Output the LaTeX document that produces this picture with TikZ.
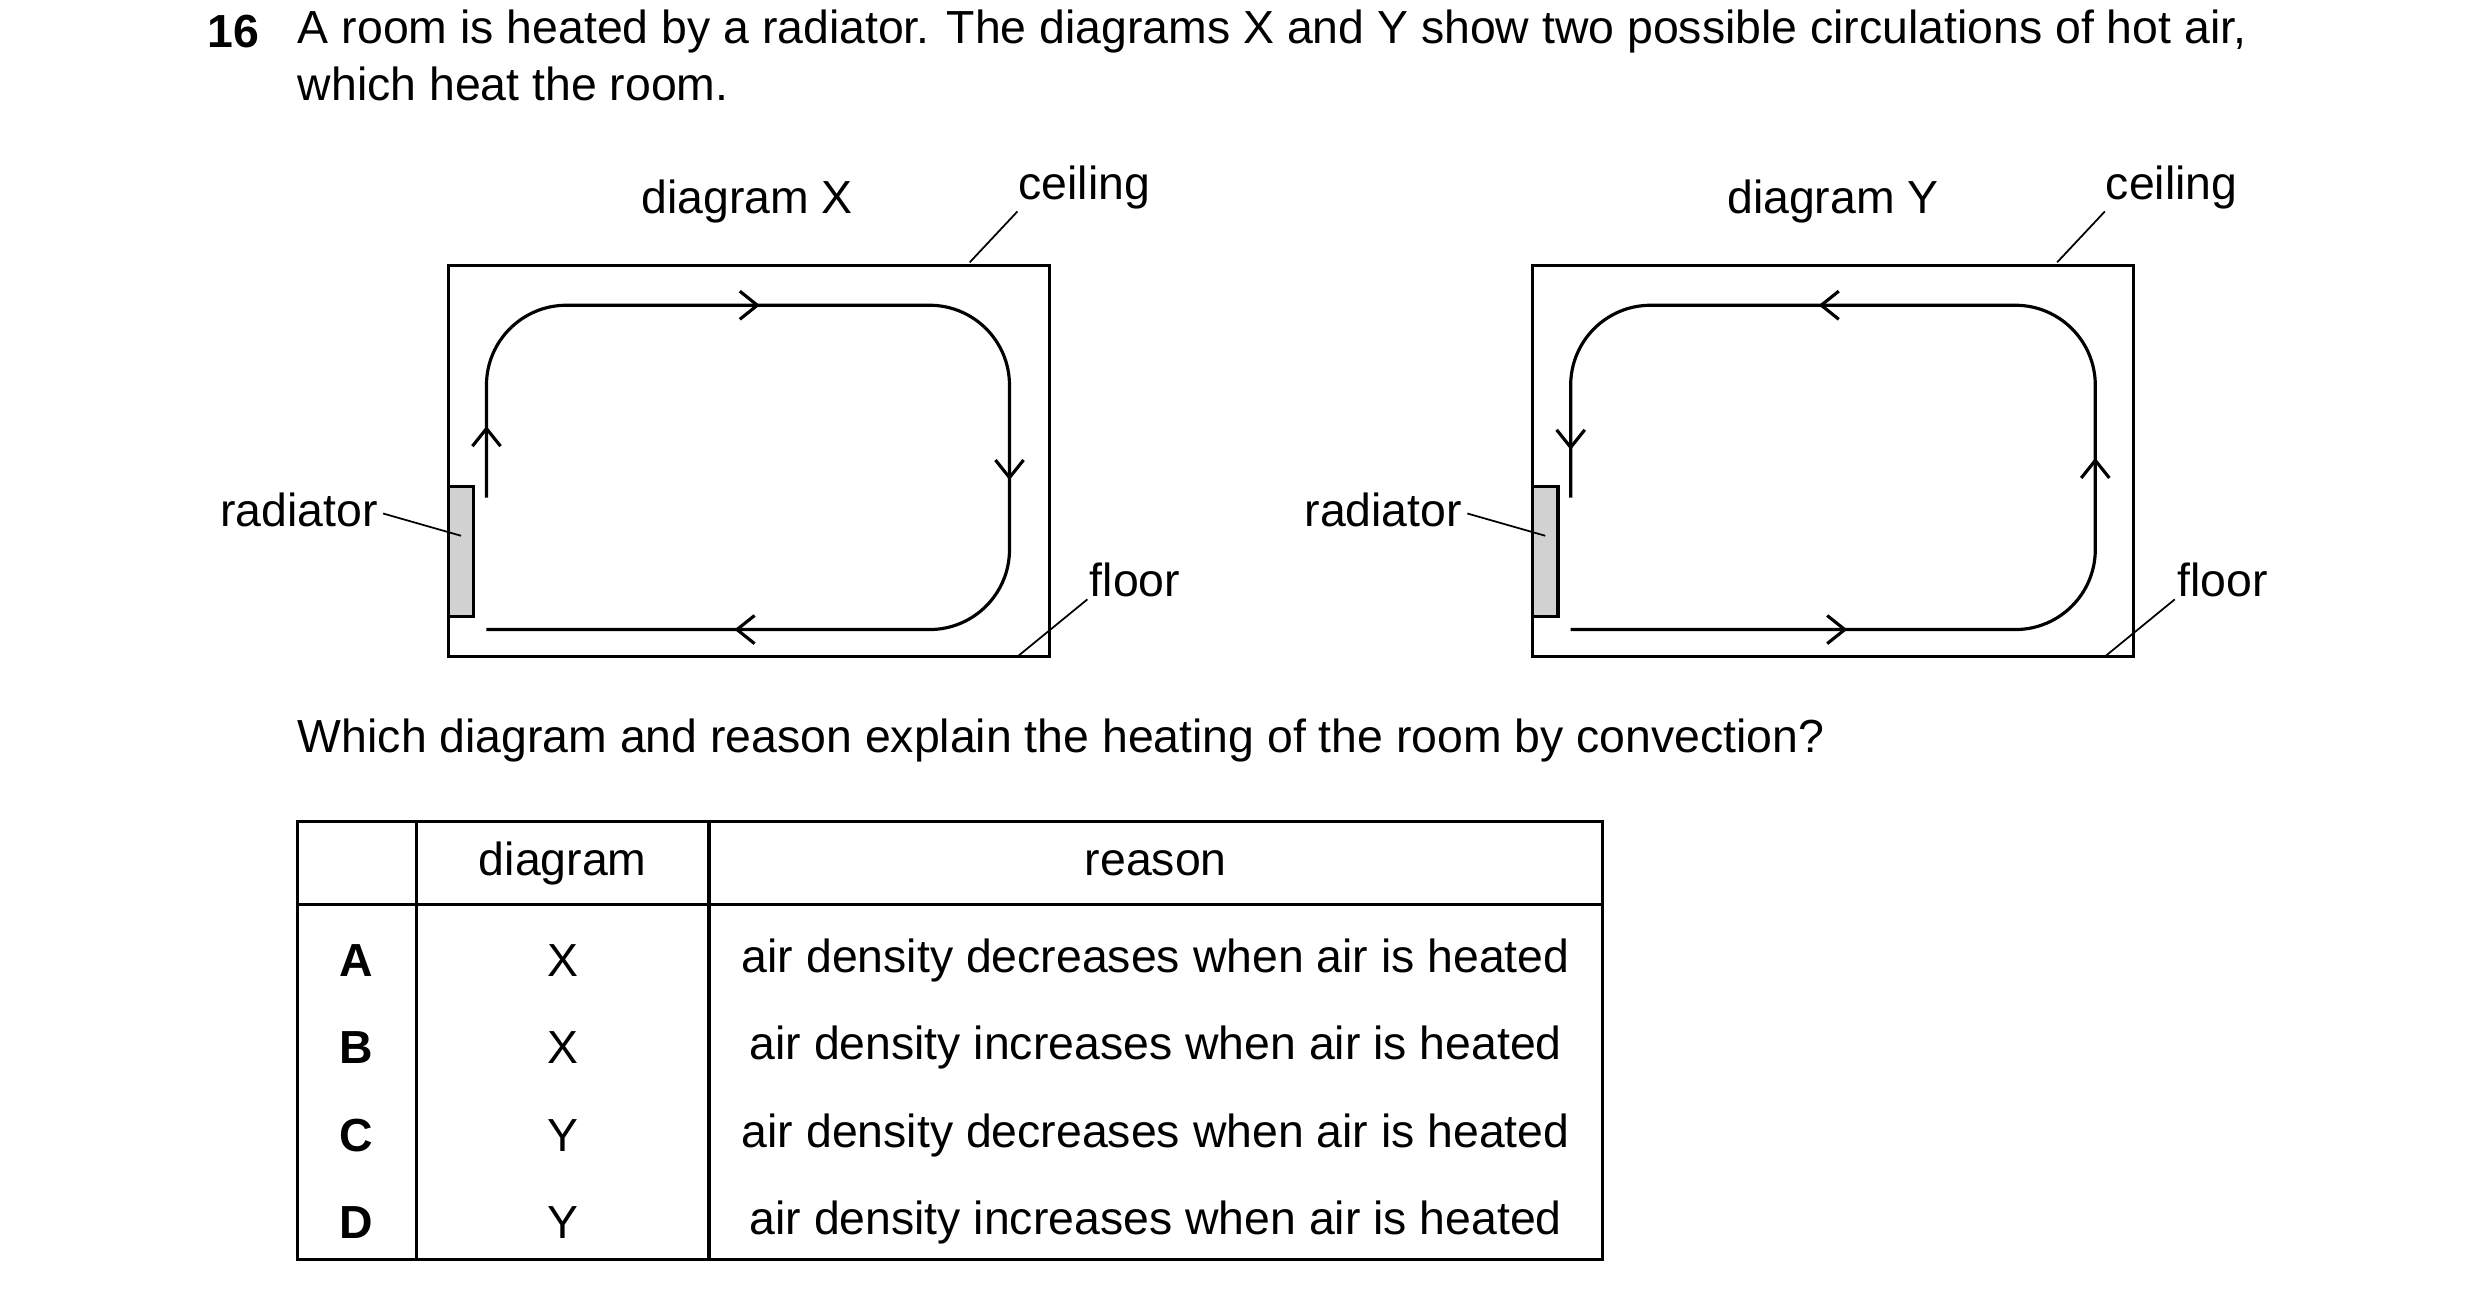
\documentclass[tikz,border=0pt]{standalone}
\usepackage{fontspec}
\setmainfont{Liberation Sans}
\usetikzlibrary{arrows.meta}

\tikzset{
  txt/.style={font=\fontsize{13.2}{16}\selectfont, inner sep=0pt},
  room/.style={line width=0.9pt},
  flow/.style={line width=0.9pt, rounded corners=0.8cm},
  tip/.style={line width=0.9pt, -{Straight Barb[length=5pt,width=8pt]}},
  lead/.style={line width=0.5pt},
}

\begin{document}
\begin{tikzpicture}[x=0.0159cm,y=-0.0159cm]
      \useasboundingbox (0,0) rectangle (1560,812);
      % question
      \node[txt,font=\fontsize{13.2}{16}\selectfont\bfseries] (num) at (147,20) {16};
      \node[txt,anchor=west] (q1) at (187,20) {A room is heated by a radiator. The diagrams X and Y show two possible circulations of hot air,};
      \node[txt,anchor=west] (q2) at (187,53) {which heat the room.};

      % diagram X
      \node[txt] (titleX) at (470,127) {diagram X};
      \draw[room] (282,167) rectangle (660,413);
      \draw[room,fill=black!18] (282,306) rectangle (298,388);
      \draw[flow] (306,313) -- (306,192) -- (635,192) -- (635,396) -- (306,396);
      \draw[tip] (306,285) -- (306,268);
      \draw[tip] (460,192) -- (478,192);
      \draw[tip] (635,285) -- (635,302);
      \draw[tip] (480,396) -- (462,396);
      \node[txt] (ceilX) at (682,118) {ceiling};
      \coordinate (ceilXe) at (610,165);
      \draw[lead] (640,133) -- (ceilXe);
      \node[txt,anchor=east] (radX) at (238,321) {radiator};
      \coordinate (radXe) at (290,337);
      \draw[lead] (radX.east) ++(3,2) -- (radXe);
      \node[txt] (floorX) at (714,365) {floor};
      \coordinate (floorXe) at (640,413);
      \draw[lead] (684,377) -- (floorXe);

      % diagram Y
      \node[txt] (titleY) at (1153,127) {diagram Y};
      \draw[room] (964,167) rectangle (1342,413);
      \draw[room,fill=black!18] (964,306) rectangle (980,388);
      \draw[flow] (988,313) -- (988,192) -- (1318,192) -- (1318,396) -- (988,396);
      \draw[tip] (988,265) -- (988,283);
      \draw[tip] (1162,192) -- (1144,192);
      \draw[tip] (1318,305) -- (1318,288);
      \draw[tip] (1144,396) -- (1162,396);
      \node[txt] (ceilY) at (1366,118) {ceiling};
      \coordinate (ceilYe) at (1294,165);
      \draw[lead] (1324,133) -- (ceilYe);
      \node[txt,anchor=east] (radY) at (920,321) {radiator};
      \coordinate (radYe) at (972,337);
      \draw[lead] (radY.east) ++(3,2) -- (radYe);
      \node[txt] (floorY) at (1398,365) {floor};
      \coordinate (floorYe) at (1324,413);
      \draw[lead] (1368,377) -- (floorYe);

      \node[txt,anchor=west] (ask) at (187,466) {Which diagram and reason explain the heating of the room by convection?};

      % table
      \draw[room] (187,517) rectangle (1008,792);
      \draw[room] (187,569) -- (1008,569);
      \draw[room] (262,517) -- (262,792);
      \draw[room] (446,517) -- (446,792);
      \node[txt] (hdiag) at (354,543) {diagram};
      \node[txt] (hreas) at (727,543) {reason};
      \foreach \k/\d/\r [count=\i] in {A/X/decreases, B/X/increases, C/Y/decreases, D/Y/increases} {
        \node[txt,font=\fontsize{13.2}{16}\selectfont\bfseries] (key\k) at (224,549+55*\i) {\k};
        \node[txt] (dia\k) at (354,549+55*\i) {\d};
        \node[txt] (rea\k) at (727,549+55*\i) {air density \r\ when air is heated};
      }
\end{tikzpicture}
\end{document}
